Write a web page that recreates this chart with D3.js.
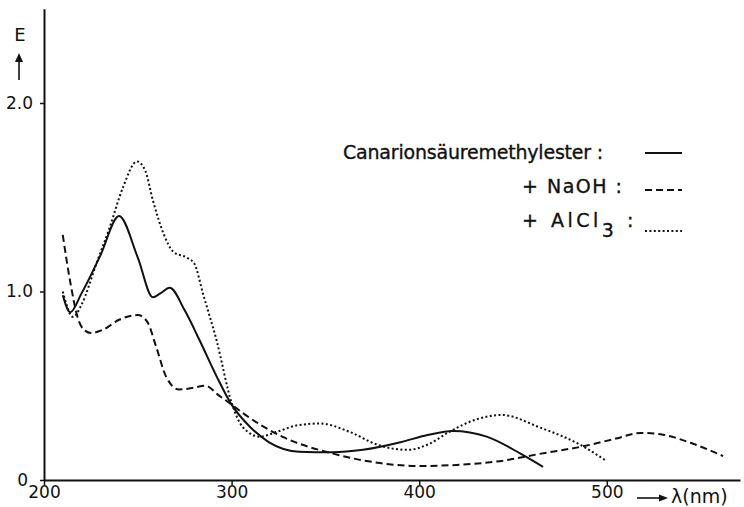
<!DOCTYPE html>
<html>
<head>
<meta charset="utf-8">
<script src="https://cdn.jsdelivr.net/npm/d3@7"></script>
<style>
  body { margin: 0; background: #fff; }
  svg { display: block; }
  text { font-family: "DejaVu Sans", sans-serif; fill: #111; }
</style>
</head>
<body>
<svg id="chart" width="744" height="507"></svg>
<script>
// spectra: [lambda (nm), E]
var esterData = [[210,0.98],[214,0.89],[220,0.99],[230,1.19],[240,1.40],[250,1.18],[258,0.97],[262,0.99],[267,1.02],[275,0.90],[283,0.74],[292,0.55],[300,0.40],[310,0.28],[320,0.20],[336,0.15],[354,0.147],[370,0.16],[390,0.20],[405,0.24],[418,0.26],[436,0.23],[454,0.14],[466,0.07]];
var naohData = [[210,1.30],[214,1.05],[218,0.86],[221,0.80],[225,0.78],[232,0.80],[240,0.85],[250,0.875],[255,0.84],[260,0.70],[265,0.55],[272,0.48],[280,0.49],[286,0.50],[293,0.45],[300,0.40],[306,0.355],[327,0.23],[354,0.14],[379,0.09],[399,0.074],[420,0.08],[443,0.10],[465,0.14],[488,0.18],[505,0.22],[518,0.25],[530,0.24],[545,0.196],[562,0.127]];
var alcl3Data = [[210,1.0],[215.5,0.865],[220,0.93],[228,1.15],[235,1.34],[242,1.55],[249.6,1.69],[254,1.64],[258,1.485],[264,1.30],[269,1.21],[276,1.18],[280,1.15],[285,0.98],[292,0.74],[300,0.41],[306,0.28],[315,0.23],[324,0.255],[335,0.29],[347,0.30],[363,0.255],[378,0.186],[394,0.16],[405,0.19],[416,0.255],[430,0.32],[444,0.345],[464,0.28],[486,0.186],[500,0.10]];

var xTicks = [200, 300, 400, 500];
var yTicks = [0, 1, 2];
var yTickLabels = ["0", "1.0", "2.0"];

var svg = d3.select('#chart');

var x = d3.scaleLinear().domain([200, 571]).range([44, 740]);
var y = d3.scaleLinear().domain([0, 2.5]).range([480, 8.75]);

// axes
var xAxis = svg.append('g').attr('transform', 'translate(0,480)')
    .call(d3.axisBottom(x).tickValues(xTicks).tickSize(5).tickSizeOuter(0).tickPadding(1));
var yAxis = svg.append('g').attr('transform', 'translate(44,0)')
    .call(d3.axisLeft(y).tickValues(yTicks).tickSize(4).tickSizeOuter(0).tickPadding(7)
        .tickFormat(function(d, i){ return yTickLabels[i]; }));

[xAxis, yAxis].forEach(function(a){
    a.select('.domain').attr('stroke', '#111').attr('stroke-width', 2);
    a.selectAll('.tick line').attr('stroke', '#111').attr('stroke-width', 1.5);
    a.selectAll('.tick text').style('font-size', '17px').attr('fill', '#111');
});
// the "0" sits a bit further left, clear of "200"
yAxis.selectAll('.tick text').filter(function(d){ return d === 0; }).attr('x', -16).attr('dy', '0.3em');

// axis titles
svg.append('text').attr('x', 20).attr('y', 41).attr('text-anchor', 'middle').style('font-size', '18px').text('E');
svg.append('line').attr('x1', 19).attr('x2', 19).attr('y1', 80).attr('y2', 56)
    .attr('stroke', '#111').attr('stroke-width', 1.6);
svg.append('path').attr('d', 'M15,62 L19,53 L23,62 Z').attr('fill', '#111');

svg.append('line').attr('x1', 637).attr('x2', 662).attr('y1', 498).attr('y2', 498)
    .attr('stroke', '#111').attr('stroke-width', 1.6);
svg.append('path').attr('d', 'M659,494.5 L668,498 L659,501.5 Z').attr('fill', '#111');
svg.append('text').attr('x', 671).attr('y', 503).style('font-size', '19px').text('λ(nm)');

// curves
var line = d3.line()
    .x(function(d){ return x(d[0]); })
    .y(function(d){ return y(d[1]); })
    .curve(d3.curveMonotoneX);

var series = [
    { data: esterData, dash: null },
    { data: naohData, dash: '7,4' },
    { data: alcl3Data, dash: '2,2.4' }
];

svg.selectAll('path.curve').data(series).enter().append('path')
    .attr('class', 'curve')
    .attr('d', function(d){ return line(d.data); })
    .attr('fill', 'none')
    .attr('stroke', '#111')
    .attr('stroke-width', 2)
    .attr('stroke-dasharray', function(d){ return d.dash; });

// legend
var legend = svg.append('g').style('stroke', '#111').style('stroke-width', 0.35);
legend.append('text').attr('x', 343).attr('y', 159).style('font-size', '19px').style('letter-spacing', '-0.2px')
    .text('Canarionsäuremethylester :');
legend.append('text').attr('x', 522).attr('y', 193).style('font-size', '19px').style('letter-spacing', '1.5px')
    .text('+ NaOH :');
var al = legend.append('text').attr('x', 522).attr('y', 227).style('font-size', '19px').style('letter-spacing', '3.5px');
al.append('tspan').text('+ AlCl');
al.append('tspan').attr('dy', 10).text('3');
al.append('tspan').attr('dy', -10).text(' :');

var legendRows = [
    { yy: 153, dash: null },
    { yy: 190, dash: '7,4' },
    { yy: 231, dash: '2,2.4' }
];
svg.selectAll('line.key').data(legendRows).enter().append('line')
    .attr('class', 'key')
    .attr('x1', 645).attr('x2', 682)
    .attr('y1', function(d){ return d.yy; }).attr('y2', function(d){ return d.yy; })
    .attr('stroke', '#111').attr('stroke-width', 2)
    .attr('stroke-dasharray', function(d){ return d.dash; });
</script>
</body>
</html>
